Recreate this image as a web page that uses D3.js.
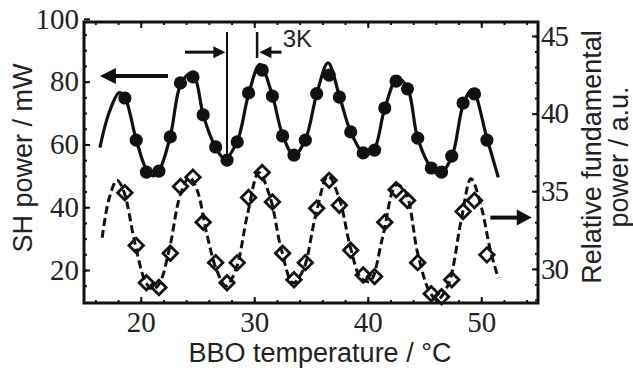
<!DOCTYPE html>
<html>
<head>
<meta charset="utf-8">
<script src="https://cdn.jsdelivr.net/npm/d3@7"></script>
<style>
  body { margin: 0; background: #fff; }
  svg { display: block; }
</style>
</head>
<body>
<div id="chart"></div>
<script>
// measured BBO temperatures (°C)
const temps = [18.6, 19.6, 20.5, 21.6, 22.6, 23.5, 24.6, 25.5, 26.6, 27.6, 28.5, 29.5, 30.7, 31.6, 32.5,
  33.5, 34.5, 35.5, 36.6, 37.5, 38.5, 39.6, 40.6, 41.5, 42.5, 43.5, 44.4, 45.6, 46.5, 47.4, 48.4, 49.4, 50.5];
// SH power / mW (left axis, filled circles)
const shPower = [74.8, 61.4, 51.2, 51.5, 62.4, 79.6, 81.5, 69.4, 59.2, 55.0, 60.8, 76.4, 83.7, 75.4, 62.7,
  56.6, 61.4, 76.2, 82.1, 75.1, 64.0, 57.3, 58.2, 71.6, 80.2, 77.7, 62.0, 52.5, 51.2, 56.3, 73.2, 76.1, 61.4];
// relative fundamental power / a.u. (right axis, open diamonds)
const fundPower = [34.9, 31.5, 29.1, 28.8, 31.0, 35.3, 35.9, 33.0, 30.4, 29.1, 30.4, 34.6, 36.2, 34.3, 31.0,
  29.3, 30.4, 33.9, 35.7, 34.1, 31.2, 29.6, 29.5, 33.0, 35.1, 34.4, 30.4, 28.4, 28.2, 29.3, 33.7, 34.4, 30.9];

// fitted curves
const shFitT = [16.4, 17.2, 18.1, 18.6, 19.6, 20.5, 21.1, 21.6, 22.6, 23.5, 24.3, 24.8, 25.5, 26.6, 27.4,
  28.5, 29.5, 30.5, 31.6, 32.5, 33.5, 34.5, 35.5, 36.5, 37.5, 38.5, 39.7, 40.5, 41.5, 42.6, 43.5, 44.4,
  45.6, 46.3, 47.4, 48.4, 49.2, 50.5, 51.5];
const shFitV = [59, 70, 76.5, 75, 61.5, 52, 50, 51.5, 62.5, 79, 82.5, 81, 69.5, 59, 55.5,
  61, 76, 85.5, 75.5, 63, 56.5, 61.5, 76, 86, 75.5, 64, 57, 58, 71.5, 81, 78, 62,
  52.5, 50.5, 56, 72.5, 77.5, 62, 49.5];
const fdFitT = [16.6, 17.2, 17.9, 18.5, 19.5, 20.4, 21.0, 21.6, 22.5, 23.5, 24.3, 25.0, 25.8, 26.7, 27.5,
  28.4, 29.4, 30.4, 31.4, 32.4, 33.4, 34.3, 35.4, 36.5, 37.5, 38.5, 39.4, 40.2, 41.3, 42.5, 43.3, 44.4,
  45.4, 46.1, 47.1, 48.2, 49.1, 50.0, 50.8, 51.5];
const fdFitV = [32.0, 34.5, 35.7, 35.0, 31.6, 29.2, 28.7, 29.0, 31.2, 34.8, 35.9, 35.0, 32.3, 29.9, 28.9,
  30.0, 33.5, 36.2, 34.6, 31.2, 29.1, 29.9, 33.4, 36.0, 34.5, 31.3, 29.4, 29.2, 32.0, 35.4, 35.0, 31.0,
  28.6, 28.0, 29.0, 33.0, 35.8, 34.0, 31.2, 29.4];

// tick labels
const xTicks = [20, 30, 40, 50];
const yLeftTicks = [20, 40, 60, 80, 100];
const yRightTicks = [30, 35, 40, 45];

const W = 633, H = 368;
const box = { left: 84, right: 538, top: 22, bottom: 303 };

const svg = d3.select('#chart').append('svg')
  .attr('width', W).attr('height', H);

const x = d3.scaleLinear().domain([15, 55]).range([box.left, box.right]);
const yL = d3.scaleLinear().domain([9.5, 99]).range([box.bottom, box.top]);
const yR = d3.scaleLinear().domain([27.8, 45.9]).range([box.bottom, box.top]);

const serif = '"Liberation Serif", "Times New Roman", serif';
const sans = '"Liberation Sans", Arial, sans-serif';

// ticks (inside) – minor + major
function tickAxis(makeAxis, pos, minorVals, majorVals, minorLen, majorLen, labels, pad) {
  const gMin = svg.append('g').attr('transform', pos)
    .call(makeAxis().tickValues(minorVals).tickSize(-minorLen).tickFormat(''));
  const gMaj = svg.append('g').attr('transform', pos)
    .call(makeAxis().tickValues(majorVals).tickSize(-majorLen).tickPadding(pad)
      .tickFormat(labels ? d3.format('d') : ''));
  [gMin, gMaj].forEach(g => {
    g.select('.domain').remove();
    g.selectAll('line').attr('stroke', '#111').attr('stroke-width', 2);
    g.selectAll('text').attr('font-family', serif).attr('font-size', 29).attr('fill', '#222');
  });
  return gMaj;
}

tickAxis(() => d3.axisBottom(x), `translate(0,${box.bottom})`, d3.range(16, 55, 2), xTicks, 3, 6, true, 8);
tickAxis(() => d3.axisTop(x), `translate(0,${box.top})`, d3.range(16, 55, 2), xTicks, 3, 6, false, 0);
tickAxis(() => d3.axisLeft(yL), `translate(${box.left},0)`, d3.range(15, 99, 5), yLeftTicks, 3, 6, true, 5);
tickAxis(() => d3.axisRight(yR), `translate(${box.right},0)`, d3.range(28, 46, 1), yRightTicks, 3, 6, true, 3)
  .selectAll('text').attr('letter-spacing', -1);

// frame
svg.append('rect')
  .attr('x', box.left).attr('y', box.top)
  .attr('width', box.right - box.left).attr('height', box.bottom - box.top)
  .attr('fill', 'none').attr('stroke', '#111').attr('stroke-width', 3);

// fitted curves
const shLine = d3.line().x(d => x(d[0])).y(d => yL(d[1])).curve(d3.curveCatmullRom.alpha(0.5));
const fdLine = d3.line().x(d => x(d[0])).y(d => yR(d[1])).curve(d3.curveCatmullRom.alpha(0.5));

svg.append('path')
  .datum(shFitT.map((t, i) => [t, shFitV[i]]))
  .attr('d', shLine)
  .attr('fill', 'none').attr('stroke', '#111').attr('stroke-width', 3.2);

svg.append('path')
  .datum(fdFitT.map((t, i) => [t, fdFitV[i]]))
  .attr('d', fdLine)
  .attr('fill', 'none').attr('stroke', '#111').attr('stroke-width', 3)
  .attr('stroke-dasharray', '8,4');

// diamonds
svg.append('g').selectAll('path')
  .data(temps.map((t, i) => [t, fundPower[i]]))
  .enter().append('path')
  .attr('d', d3.symbol(d3.symbolSquare, 105))
  .attr('transform', d => `translate(${x(d[0])},${yR(d[1])}) rotate(45)`)
  .attr('fill', 'none').attr('stroke', '#111').attr('stroke-width', 2.8);

// circles
svg.append('g').selectAll('circle')
  .data(temps.map((t, i) => [t, shPower[i]]))
  .enter().append('circle')
  .attr('cx', d => x(d[0])).attr('cy', d => yL(d[1]))
  .attr('r', 6.6).attr('fill', '#111');

// arrows
function arrow(x1, y1, x2, y2, w, headLen, headHalf) {
  const dir = Math.sign(x2 - x1);
  svg.append('line')
    .attr('x1', x1).attr('y1', y1).attr('x2', x2 - dir * headLen * 0.8).attr('y2', y2)
    .attr('stroke', '#111').attr('stroke-width', w);
  svg.append('path')
    .attr('d', `M${x2},${y2}L${x2 - dir * headLen},${y2 - headHalf}L${x2 - dir * headLen},${y2 + headHalf}Z`)
    .attr('fill', '#111');
}

// axis indicators
arrow(x(22.4), yL(81.8), x(16.4), yL(81.8), 4, 16, 8);
arrow(x(50.8), yR(33.3), x(54.45), yR(33.3), 4, 15, 8);

// 3K annotation
svg.append('line')
  .attr('x1', x(27.6)).attr('x2', x(27.6)).attr('y1', yL(95.8)).attr('y2', yL(57))
  .attr('stroke', '#111').attr('stroke-width', 2);
svg.append('line')
  .attr('x1', x(30.25)).attr('x2', x(30.25)).attr('y1', yL(95.8)).attr('y2', yL(87.5))
  .attr('stroke', '#111').attr('stroke-width', 2.5);
arrow(x(23.9), yL(89.4), x(27.45), yL(89.4), 3, 12, 6);
arrow(x(32.4), yL(89.4), x(30.45), yL(89.4), 3, 12, 6);
svg.append('text')
  .attr('x', x(32.5)).attr('y', yL(91))
  .attr('font-family', sans).attr('font-size', 24).attr('fill', '#222')
  .text('3K');

// axis titles
svg.append('text')
  .attr('x', 320).attr('y', 362)
  .attr('text-anchor', 'middle')
  .attr('font-family', sans).attr('font-size', 27).attr('fill', '#222')
  .text('BBO temperature / °C');

svg.append('text')
  .attr('transform', 'translate(32,158) rotate(-90)')
  .attr('text-anchor', 'middle')
  .attr('font-family', sans).attr('font-size', 27).attr('fill', '#222')
  .text('SH power / mW');

const rt = svg.append('text')
  .attr('transform', 'translate(601,157) rotate(-90)')
  .attr('text-anchor', 'middle')
  .attr('font-family', sans).attr('font-size', 27).attr('fill', '#222');
rt.append('tspan').attr('x', 0).attr('y', 0).text('Relative fundamental');
rt.append('tspan').attr('x', 0).attr('y', 27).text('power / a.u.');
</script>
</body>
</html>
